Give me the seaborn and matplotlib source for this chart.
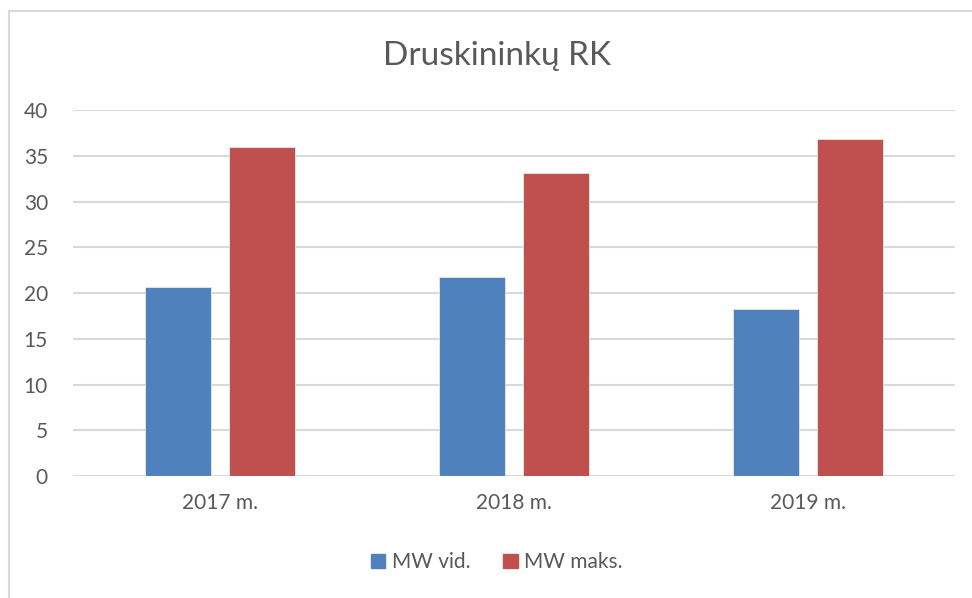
import pandas as pd
import seaborn as sns
import matplotlib.pyplot as plt
from matplotlib.patches import Rectangle

# Chart data
years = ['2017 m.', '2018 m.', '2019 m.']
mw_vid = [20.7, 21.8, 18.2]
mw_maks = [36.0, 33.1, 36.8]
series_names = ['MW vid.', 'MW maks.']
colors = ['#4f81bd', '#c0504d']

data = pd.DataFrame({
    'Metai': years * 2,
    'Reikšmė': mw_vid + mw_maks,
    'Serija': [series_names[0]] * len(years) + [series_names[1]] * len(years),
})

sns.set_theme(style='white')
plt.rcParams['font.family'] = ['Lato', 'DejaVu Sans']

fig = plt.figure(figsize=(9.72, 5.98), dpi=100)
ax = fig.add_axes([0.0751, 0.204, 0.9074, 0.612])

sns.barplot(data=data, x='Metai', y='Reikšmė', hue='Serija', palette=colors,
            saturation=1, width=0.571, gap=0.214, edgecolor='#e8e8e8',
            linewidth=0.6, ax=ax, legend=False, zorder=3)

ax.set_ylim(0, 40)
ax.set_yticks(range(0, 41, 5))
ax.set_xlim(-0.5, 2.5)
ax.yaxis.grid(True, color='#d9d9d9', linewidth=1.5, zorder=0)
ax.set_axisbelow(True)
for s in ax.spines.values():
    s.set_visible(False)
ax.set_xlabel('')
ax.set_ylabel('')
ax.tick_params(axis='both', length=0, labelsize=15, labelcolor='#595959')
ax.tick_params(axis='y', pad=18)
ax.tick_params(axis='x', pad=12)

fig.text(0.511, 0.907, 'Druskininkų RK', ha='center', va='center',
         fontsize=24, color='#595959')

# Legend
handles = [Rectangle((0, 0), 1, 1, color=c) for c in colors]
fig.legend(handles, series_names, loc='center', bbox_to_anchor=(0.511, 0.06),
           ncol=2, frameon=False, fontsize=15, labelcolor='#595959',
           handlelength=0.7, handleheight=0.7, handletextpad=0.3,
           columnspacing=1.6)

# Chart frame
fig.patches.append(Rectangle((9 / 972, -0.1), 1.2, 1 - 11 / 598 + 0.1,
                             transform=fig.transFigure, fill=False,
                             edgecolor='#d9d9d9', linewidth=1.5))

fig.savefig('out.png', dpi=100)
